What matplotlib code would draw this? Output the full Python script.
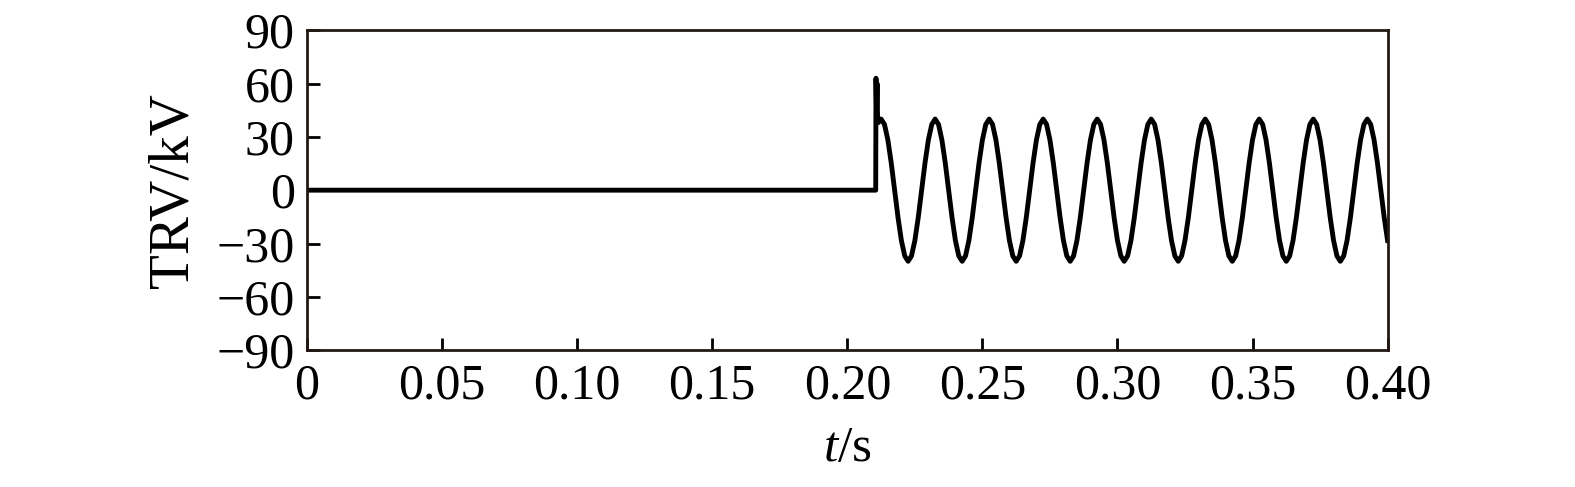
import matplotlib
matplotlib.use("Agg")
import matplotlib.pyplot as plt
import numpy as np

# values
t_flat = [0.0, 0.2105]
v_flat = [0.0, 0.0]

# switching spike just after 0.21 s
t_spike = [0.2105, 0.2106, 0.2108, 0.2110, 0.2112, 0.2115, 0.2120]
v_spike = [0.0, 63.0, 45.0, 60.0, 40.0, 38.0, 40.0]

# one 50 Hz cycle of the recovery voltage, sampled every 1.25 ms (kV)
cycle_kv = [40.0, 37.0, 28.3, 15.3, 0.0, -15.3, -28.3, -37.0,
            -40.0, -37.0, -28.3, -15.3, 0.0, 15.3, 28.3, 37.0]
cycle_start = 0.2125
cycle_step = 0.00125
t_end = 0.40

xticks = [0, 0.05, 0.10, 0.15, 0.20, 0.25, 0.30, 0.35, 0.40]
xticklabels = ["0", "0.05", "0.10", "0.15", "0.20", "0.25", "0.30", "0.35", "0.40"]
yticks = [-90, -60, -30, 0, 30, 60, 90]
yticklabels = ["\u221290", "\u221260", "\u221230", "0", "30", "60", "90"]

n = int(round((t_end - cycle_start) / cycle_step)) + 1
t_osc = cycle_start + cycle_step * np.arange(n)
v_osc = np.tile(cycle_kv, n // len(cycle_kv) + 1)[:n]

t = np.concatenate([t_flat, t_spike[1:], t_osc])
v = np.concatenate([v_flat, v_spike[1:], v_osc])

plt.rcParams['font.family'] = ['Liberation Serif', 'DejaVu Serif']
plt.rcParams['mathtext.fontset'] = 'custom'
plt.rcParams['mathtext.rm'] = 'Liberation Serif'
plt.rcParams['mathtext.it'] = 'Liberation Serif:italic'

fig = plt.figure(figsize=(15.75, 4.87), dpi=100)
ax = fig.add_axes([0.195, 0.281, 0.686, 0.657])
ax.plot(t, v, color='black', linewidth=3.5)

ax.set_xlim(0, 0.40)
ax.set_ylim(-90, 90)
ax.set_xticks(xticks)
ax.set_xticklabels(xticklabels)
ax.set_yticks(yticks)
ax.set_yticklabels(yticklabels)
ax.tick_params(direction='in', length=9, width=2, labelsize=36, pad=9)
for s in ax.spines.values():
    s.set_linewidth(2)
    s.set_color('#231815')

ax.set_ylabel('TRV/kV', fontsize=41, labelpad=12)
ax.set_xlabel('$\\mathit{t}$/s', fontsize=37, labelpad=12)

fig.savefig('out.png', dpi=100)
